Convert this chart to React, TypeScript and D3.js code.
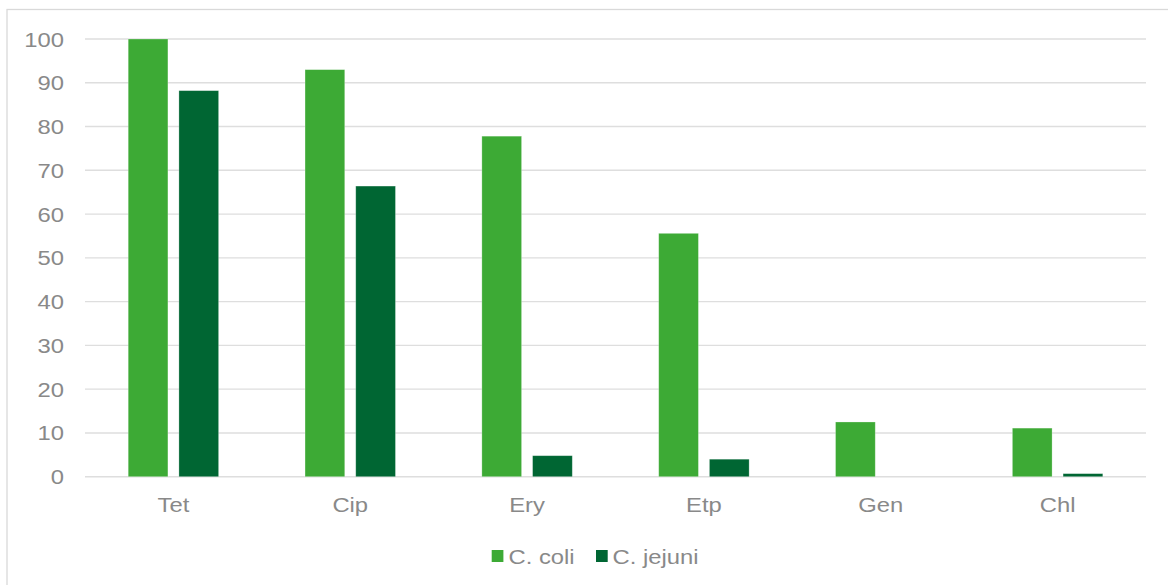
import React from "react";
import * as d3 from "d3";

// Antimicrobial resistance (%) per drug, by species
const categories = ["Tet", "Cip", "Ery", "Etp", "Gen", "Chl"];
const seriesNames = ["C. coli", "C. jejuni"];
const coliValues = [100, 93.0, 77.8, 55.6, 12.5, 11.1];
const jejuniValues = [88.2, 66.4, 4.8, 4.0, 0, 0.7];
const yTicks = [0, 10, 20, 30, 40, 50, 60, 70, 80, 90, 100];
const colors = ["#3DAA35", "#006633"];

const W = 1168;
const H = 585;
const FONT = "'Liberation Sans', Arial, sans-serif";
const TEXT = "#898989";
const GRID = "#DEDEDE";
const SX = 1.19; // horizontal stretch of the text glyphs

export default function App() {
  const plotLeft = 85;
  const plotRight = 1146;
  const y = d3.scaleLinear().domain([0, 100]).range([476.7, 39]);
  const x = d3.scaleBand<string>().domain(categories).range([plotLeft, plotRight]);
  const xs = d3
    .scaleBand<string>()
    .domain(seriesNames)
    .range([0, x.bandwidth()])
    .paddingInner(0.217)
    .paddingOuter(0.852);

  const series = [coliValues, jejuniValues];

  const label = (
    tx: number,
    ty: number,
    text: string,
    anchor: "start" | "middle" | "end",
    key?: string
  ) => (
    <text
      key={key}
      transform={`translate(${tx},${ty}) scale(${SX},1)`}
      textAnchor={anchor}
      fontFamily={FONT}
      fontSize={20}
      fill={TEXT}
    >
      {text}
    </text>
  );

  return (
    <svg
      width={W}
      height={H}
      style={{ position: "absolute", left: 0, top: 0, background: "#fff" }}
    >
      {/* chart frame */}
      <rect x={7} y={9.5} width={W + 20} height={H + 20} fill="#fff" stroke="#D9D9D9" strokeWidth={1.3} />

      {/* gridlines */}
      {yTicks.map((t) => (
        <line
          key={`g${t}`}
          x1={plotLeft}
          x2={plotRight}
          y1={y(t)}
          y2={y(t)}
          stroke={GRID}
          strokeWidth={1.4}
        />
      ))}

      {/* y tick labels */}
      {yTicks.map((t) => label(64, y(t) + 7.5, String(t), "end", `t${t}`))}

      {/* bars */}
      {series.map((vals, si) =>
        vals.map((v, ci) => {
          const bx = (x(categories[ci]) ?? 0) + (xs(seriesNames[si]) ?? 0);
          return (
            <rect
              key={`b${si}-${ci}`}
              x={bx}
              y={y(v)}
              width={xs.bandwidth()}
              height={y(0) - y(v)}
              fill={colors[si]}
              stroke="#ffffff"
              strokeOpacity={0.35}
              strokeWidth={0.75}
            />
          );
        })
      )}

      {/* category labels */}
      {categories.map((c) =>
        label((x(c) ?? 0) + x.bandwidth() / 2, 512.3, c, "middle", `c${c}`)
      )}

      {/* legend */}
      <g>
        <rect x={491.7} y={550} width={11.7} height={12} fill={colors[0]} />
        {label(508.5, 564, seriesNames[0], "start")}
        <rect x={596} y={550} width={11.7} height={12} fill={colors[1]} />
        {label(612.5, 564, seriesNames[1], "start")}
      </g>
    </svg>
  );
}
